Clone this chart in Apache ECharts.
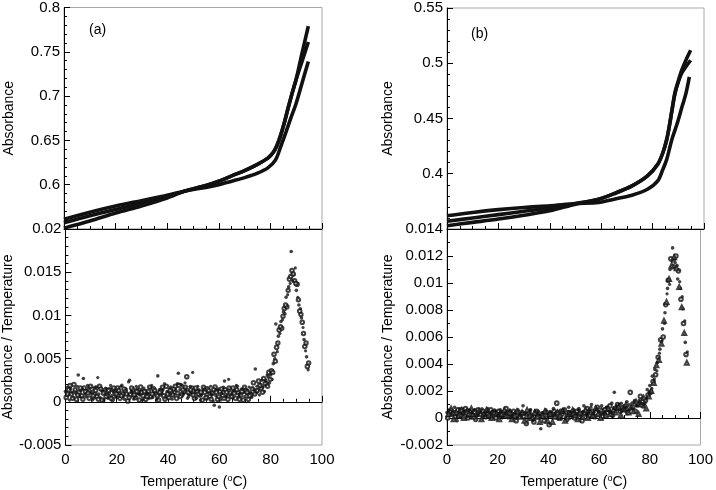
<!DOCTYPE html>
<html><head><meta charset="utf-8">
<script src="https://cdn.jsdelivr.net/npm/echarts@6/dist/echarts.min.js"></script>
<style>html,body{margin:0;padding:0;background:#fff}#c{width:716px;height:490px}</style>
</head><body><div id="c"></div>
<script>
// ---------- Panel (a) top: absorbance curves ----------
const aCurveOpenT = [0,10,20,30,40,47,55,60,65,70,75,79,81,82.5,84,85.5,87,88.5,90,92,94.7];
const aCurveOpenV = [0.551,0.559,0.568,0.576,0.585,0.593,0.599,0.604,0.610,0.616,0.623,0.630,0.636,0.644,0.656,0.671,0.688,0.704,0.719,0.745,0.779];
const aCurveFillT = [0,10,20,30,40,47,55,60,65,70,75,79,81,82.5,84,85.5,87,88.5,90,92,94.7];
const aCurveFillV = [0.557,0.565,0.572,0.579,0.587,0.593,0.599,0.604,0.610,0.616,0.623,0.630,0.636,0.644,0.656,0.671,0.688,0.704,0.719,0.737,0.761];
const aCurveLowT = [0,10,20,30,40,47,55,60,65,70,75,79,82,84,86,88,90,92,94.7];
const aCurveLowV = [0.561,0.569,0.576,0.582,0.588,0.593,0.597,0.600,0.604,0.608,0.613,0.619,0.628,0.643,0.659,0.676,0.692,0.712,0.739];

// ---------- Panel (b) top: absorbance curves ----------
const bCurveOpenT = [0,10,20,30,40,50,59,65,72,78,82,84,85.5,86.5,87.5,88.7,90,91.3,93,94.8];
const bCurveOpenV = [0.353,0.356,0.359,0.3625,0.3665,0.3725,0.377,0.382,0.389,0.398,0.4086,0.419,0.431,0.443,0.457,0.4733,0.484,0.4935,0.503,0.5117];
const bCurveFillT = [0,10,20,30,40,50,59,65,72,78,82,84,85.5,86.5,87.5,88.7,90,91.3,93,94.8];
const bCurveFillV = [0.357,0.360,0.363,0.366,0.369,0.373,0.377,0.382,0.389,0.398,0.4086,0.419,0.431,0.443,0.457,0.4725,0.483,0.491,0.497,0.5027];
const bCurveTriT = [0,10,20,30,40,50,59,65,72,78,82,84,85.5,87.5,89.5,91.5,93,94.3];
const bCurveTriV = [0.362,0.365,0.3675,0.3695,0.371,0.373,0.374,0.377,0.3806,0.386,0.3935,0.404,0.413,0.431,0.445,0.461,0.473,0.4877];

// ---------- derivative sweeps: temperatures ----------
const temps1 = [0,1,2,3,4,5,6,7,8,9,10,11,12,13,14,15,16,17,18,19,20,21,22,23,24,25,26,27,28,29,30,31,32,33,34,35,36,37,38,39,40,41,42,43,44,45,46,47,48,49,50,51,52,53,54,55,56,57,58,59,60,61,62,63,64,65,66,67,68,69,70,71,72,73,74,75,76,77,78,79,80,81,82,83,84,85,86,87,88,89,90,91,92,93,94];
const temps2 = [0.3,1.3,2.3,3.3,4.3,5.3,6.3,7.3,8.3,9.3,10.3,11.3,12.3,13.3,14.3,15.3,16.3,17.3,18.3,19.3,20.3,21.3,22.3,23.3,24.3,25.3,26.3,27.3,28.3,29.3,30.3,31.3,32.3,33.3,34.3,35.3,36.3,37.3,38.3,39.3,40.3,41.3,42.3,43.3,44.3,45.3,46.3,47.3,48.3,49.3,50.3,51.3,52.3,53.3,54.3,55.3,56.3,57.3,58.3,59.3,60.3,61.3,62.3,63.3,64.3,65.3,66.3,67.3,68.3,69.3,70.3,71.3,72.3,73.3,74.3,75.3,76.3,77.3,78.3,79.3,80.3,81.3,82.3,83.3,84.3,85.3,86.3,87.3,88.3,89.3,90.3,91.3,92.3,93.3,94.3];
const temps3 = [0.6,1.6,2.6,3.6,4.6,5.6,6.6,7.6,8.6,9.6,10.6,11.6,12.6,13.6,14.6,15.6,16.6,17.6,18.6,19.6,20.6,21.6,22.6,23.6,24.6,25.6,26.6,27.6,28.6,29.6,30.6,31.6,32.6,33.6,34.6,35.6,36.6,37.6,38.6,39.6,40.6,41.6,42.6,43.6,44.6,45.6,46.6,47.6,48.6,49.6,50.6,51.6,52.6,53.6,54.6,55.6,56.6,57.6,58.6,59.6,60.6,61.6,62.6,63.6,64.6,65.6,66.6,67.6,68.6,69.6,70.6,71.6,72.6,73.6,74.6,75.6,76.6,77.6,78.6,79.6,80.6,81.6,82.6,83.6,84.6,85.6,86.6,87.6,88.6,89.6,90.6,91.6,92.6,93.6,94.6];
const temps4 = [0.8,1.8,2.8,3.8,4.8,5.8,6.8,7.8,8.8,9.8,10.8,11.8,12.8,13.8,14.8,15.8,16.8,17.8,18.8,19.8,20.8,21.8,22.8,23.8,24.8,25.8,26.8,27.8,28.8,29.8,30.8,31.8,32.8,33.8,34.8,35.8,36.8,37.8,38.8,39.8,40.8,41.8,42.8,43.8,44.8,45.8,46.8,47.8,48.8,49.8,50.8,51.8,52.8,53.8,54.8,55.8,56.8,57.8,58.8,59.8,60.8,61.8,62.8,63.8,64.8,65.8,66.8,67.8,68.8,69.8,70.8,71.8,72.8,73.8,74.8,75.8,76.8,77.8,78.8,79.8,80.8,81.8,82.8,83.8,84.8,85.8,86.8,87.8,88.8,89.8,90.8,91.8,92.8,93.8,94.8];

// ---------- Panel (a) bottom: dA/dT ----------
const aDeriv1 = [0.0012,0.0008,0.0015,0.0005,0.0010,0.0031,0.0013,0.0027,0.0006,0.0016,
0.0011,0.0004,0.0017,0.0009,0.0013,0.0002,0.0015,0.0010,0.0007,0.0014,
0.0005,0.0012,0.0019,0.0003,0.0009,0.0025,0.0011,0.0006,0.0015,0.0008,
0.0002,0.0013,0.0010,0.0016,0.0005,0.0012,0.0030,0.0008,0.0014,0.0004,
0.0011,0.0017,0.0007,0.0013,0.0033,0.0020,0.0009,0.0015,0.0006,0.0012,
0.0010,0.0004,0.0014,0.0008,0.0016,0.0003,0.0012,0.0009,-0.0004,0.0013,
-0.0006,0.0010,0.0024,0.0007,0.0015,0.0005,0.0012,0.0018,0.0009,0.0014,
0.0006,0.0013,0.0011,0.0016,0.0038,0.0014,0.0020,0.0017,0.0025,0.0029,
0.0031,0.0044,0.0090,0.0076,0.0093,0.0104,0.0121,0.0133,0.0174,0.0147,
0.0129,0.0112,0.0097,0.0072,0.0052];
const aDeriv2 = [0.0005,0.0014,0.0009,0.0020,0.0003,0.0011,0.0007,0.0016,0.0012,0.0004,
0.0015,0.0009,0.0006,0.0018,0.0002,0.0011,0.0007,0.0014,0.0003,0.0010,
0.0016,0.0004,0.0009,0.0013,0.0001,0.0008,0.0014,0.0005,0.0011,0.0017,
0.0007,0.0003,0.0012,0.0006,0.0015,0.0009,0.0002,0.0013,0.0007,0.0018,
0.0005,0.0011,0.0015,0.0004,0.0019,0.0008,0.0012,0.0029,0.0010,0.0016,
0.0004,0.0012,0.0008,0.0002,0.0011,0.0015,0.0006,0.0010,0.0017,0.0003,
0.0012,0.0007,0.0014,0.0003,0.0010,0.0016,0.0004,0.0011,0.0008,0.0002,
0.0013,0.0003,0.0008,0.0022,0.0012,0.0024,0.0016,0.0027,0.0021,0.0034,
0.0036,0.0055,0.0063,0.0083,0.0085,0.0108,0.0110,0.0142,0.0152,0.0140,
0.0136,0.0105,0.0092,0.0064,0.0041];
const aDeriv3 = [0.0017,0.0002,0.0011,0.0013,0.0018,0.0006,0.0015,0.0009,0.0019,0.0010,
0.0002,0.0017,0.0028,0.0005,0.0014,0.0016,0.0004,0.0019,0.0012,0.0006,
0.0009,0.0018,0.0006,0.0015,0.0023,0.0012,0.0003,0.0018,0.0009,0.0013,
0.0016,0.0009,0.0004,0.0019,0.0011,0.0003,0.0014,0.0010,0.0021,0.0012,
0.0015,0.0003,0.0009,0.0021,0.0014,0.0019,0.0022,0.0004,0.0018,0.0034,
0.0013,0.0018,0.0002,0.0014,0.0006,0.0010,0.0018,0.0001,0.0007,0.0015,
0.0002,0.0017,0.0006,0.0026,0.0009,0.0013,0.0019,0.0006,0.0015,0.0011,
0.0009,0.0017,0.0005,0.0014,0.0018,0.0008,0.0025,0.0012,0.0031,0.0022,
0.0026,0.0050,0.0058,0.0079,0.0095,0.0102,0.0124,0.0137,0.0140,0.0155,
0.0121,0.0108,0.0086,0.0059,0.0037];
const aDeriv4 = [0.0009,0.0019,0.0004,0.0014,0.0008,0.0016,0.0003,0.0012,0.0010,0.0018,
0.0007,0.0013,0.0003,0.0015,0.0010,0.0006,0.0013,0.0004,0.0016,0.0009,
0.0013,0.0007,0.0015,0.0009,0.0005,0.0016,0.0008,0.0012,0.0002,0.0011,
0.0012,0.0006,0.0017,0.0009,0.0013,0.0007,0.0011,0.0017,0.0003,0.0009,
0.0013,0.0008,0.0018,0.0010,0.0006,0.0014,0.0017,0.0011,0.0014,0.0008,
0.0016,0.0009,0.0011,0.0017,0.0005,0.0013,0.0003,0.0014,0.0011,0.0006,
0.0015,0.0004,0.0011,0.0016,0.0006,0.0010,0.0014,0.0003,0.0012,0.0017,
0.0011,0.0007,0.0015,0.0009,0.0013,0.0019,0.0011,0.0021,0.0018,0.0026,
0.0034,0.0047,0.0068,0.0087,0.0099,0.0112,0.0129,0.0145,0.0148,0.0137,
0.0118,0.0101,0.0079,0.0068,0.0045];

// ---------- Panel (b) bottom: dA/dT ----------
const bDeriv1 = [0.0004,0.0002,0.0006,0.0008,-0.0002,0.0005,0.0007,0.0003,0.0006,0.0001,
0.0004,0.0006,0.0002,0.0005,0.0000,0.0004,0.0007,0.0003,0.0001,0.0005,
0.0003,0.0006,0.0001,0.0004,0.0002,0.0005,0.0000,0.0003,0.0006,0.0002,
0.0009,0.0004,-0.0001,0.0006,0.0002,0.0000,0.0005,-0.0008,0.0003,0.0006,
0.0001,0.0004,0.0007,0.0002,0.0005,-0.0001,0.0006,0.0003,0.0008,0.0004,
0.0006,0.0002,0.0007,0.0004,0.0009,0.0003,0.0006,0.0010,0.0004,0.0007,
0.0005,0.0009,0.0003,0.0008,0.0006,0.0011,0.0019,0.0007,0.0010,0.0005,
0.0009,0.0012,0.0006,0.0011,0.0013,0.0009,0.0012,0.0014,0.0011,0.0021,
0.0024,0.0031,0.0036,0.0041,0.0051,0.0066,0.0078,0.0096,0.0110,0.0126,
0.0115,0.0103,0.0096,0.0081,0.0056];
const bDeriv2 = [0.0000,0.0005,0.0003,0.0001,0.0006,0.0002,0.0004,0.0007,0.0000,0.0005,
0.0002,-0.0001,0.0006,0.0003,0.0005,0.0001,0.0003,0.0006,0.0004,0.0000,
0.0005,0.0002,0.0004,0.0007,0.0001,0.0003,0.0005,-0.0002,0.0004,0.0002,
0.0001,-0.0004,0.0004,0.0002,-0.0003,0.0005,0.0001,0.0003,-0.0002,0.0004,
-0.0005,0.0002,0.0005,0.0011,0.0000,0.0003,0.0006,-0.0001,0.0004,0.0002,
0.0000,0.0005,0.0003,-0.0002,0.0004,0.0007,0.0002,0.0005,0.0001,0.0008,
0.0003,0.0001,0.0006,0.0004,0.0009,0.0002,0.0007,0.0010,0.0005,0.0008,
0.0006,0.0004,0.0019,0.0008,0.0005,0.0010,0.0016,0.0009,0.0013,0.0017,
0.0019,0.0027,0.0032,0.0045,0.0058,0.0060,0.0084,0.0102,0.0118,0.0112,
0.0120,0.0109,0.0088,0.0070,0.0047];
const bDeriv3 = [0.0003,0.0007,-0.0001,0.0004,0.0002,0.0006,0.0000,0.0004,0.0003,0.0007,
0.0001,0.0003,0.0005,-0.0001,0.0003,0.0006,0.0002,0.0000,0.0004,0.0003,
-0.0001,0.0003,0.0006,0.0002,0.0004,-0.0001,0.0002,0.0005,0.0001,0.0004,
-0.0002,0.0006,0.0002,0.0000,0.0004,0.0001,-0.0003,0.0002,0.0005,-0.0002,
0.0003,-0.0003,0.0001,0.0004,0.0002,0.0005,-0.0002,0.0001,0.0003,0.0006,
0.0002,-0.0001,0.0004,0.0001,0.0006,0.0000,0.0004,0.0002,0.0007,0.0003,
0.0000,0.0005,0.0002,0.0007,0.0003,0.0006,0.0004,0.0008,0.0002,0.0007,
0.0010,0.0004,0.0008,0.0005,0.0012,0.0003,0.0010,0.0015,0.0007,0.0016,
0.0020,0.0026,0.0039,0.0043,0.0055,0.0072,0.0086,0.0103,0.0113,0.0119,
0.0111,0.0097,0.0082,0.0063,0.0041];
const bDeriv4 = [0.0006,0.0003,0.0005,0.0002,0.0007,0.0003,0.0005,0.0001,0.0006,0.0004,
0.0006,0.0002,0.0004,0.0007,0.0002,0.0005,0.0000,0.0005,0.0006,0.0002,
0.0004,0.0000,0.0003,0.0005,0.0006,0.0002,0.0004,0.0001,0.0003,0.0005,
0.0003,0.0002,0.0006,-0.0002,0.0005,0.0003,0.0002,0.0004,0.0001,0.0003,
0.0005,0.0002,0.0004,-0.0001,0.0006,0.0004,0.0001,0.0005,0.0002,0.0005,
0.0003,0.0006,0.0001,0.0005,0.0002,0.0004,0.0008,0.0003,0.0006,0.0005,
0.0007,0.0004,0.0008,0.0005,0.0004,0.0007,0.0009,0.0006,0.0011,0.0007,
0.0008,0.0010,0.0007,0.0012,0.0009,0.0013,0.0011,0.0010,0.0015,0.0019,
0.0022,0.0029,0.0035,0.0048,0.0057,0.0070,0.0092,0.0099,0.0116,0.0117,
0.0113,0.0101,0.0090,0.0072,0.0049];

// ---------- axis settings ----------
const xTicks = {min: 0, max: 100, interval: 20};
const yTopA = {min: 0.55, max: 0.8, interval: 0.05, minor: 5};
const yBotA = {min: -0.005, max: 0.02, interval: 0.005, minor: 5};
const yTopB = {min: 0.35, max: 0.55, interval: 0.05, minor: 5};
const yBotB = {min: -0.002, max: 0.014, interval: 0.002, minor: 2};

const FONT = 'Liberation Sans, Arial, Helvetica, sans-serif';
const pairs = (t, v) => t.map((x, i) => [x, v[i]]);

function xAxis(gi, bottom) {
  return {
    type: 'value', gridIndex: gi, min: xTicks.min, max: xTicks.max, interval: xTicks.interval,
    axisLine: {show: true, lineStyle: {color: '#000', width: 1}},
    axisTick: {show: true, inside: true, length: 6, lineStyle: {color: '#000'}},
    minorTick: {show: true, splitNumber: 4, length: 3, lineStyle: {color: '#000'}},
    splitLine: {show: false},
    axisLabel: {show: bottom, color: '#000', fontSize: 15, fontFamily: FONT, margin: 7},
    name: bottom ? 'Temperature ({s|o}C)' : '',
    nameLocation: 'middle', nameGap: 29,
    nameTextStyle: {color: '#000', fontSize: 14, fontFamily: FONT,
      rich: {s: {fontSize: 9, fontFamily: FONT, color: '#000', padding: [0, 0, 7, 0]}}}
  };
}
function yAxis(gi, s, top, name, gap) {
  return {
    type: 'value', gridIndex: gi, min: s.min, max: s.max, interval: s.interval,
    axisLine: {show: true, lineStyle: {color: '#000', width: 1}},
    axisTick: {show: true, inside: true, length: 6, lineStyle: {color: '#000'}},
    minorTick: {show: true, splitNumber: s.minor, length: 3, lineStyle: {color: '#000'}},
    splitLine: {show: false},
    axisLabel: {color: '#000', fontSize: 15, fontFamily: FONT, margin: 4,
      showMinLabel: !top, showMaxLabel: true},
    name: name, nameLocation: 'middle', nameGap: gap,
    nameTextStyle: {color: '#000', fontSize: 14, fontFamily: FONT}
  };
}
function curve(gi, t, v) {
  return {type: 'line', xAxisIndex: gi, yAxisIndex: gi, data: pairs(t, v), smooth: 0.3,
    showSymbol: false, lineStyle: {color: '#111', width: 3.6}, silent: true};
}
function dots(gi, t, v, sym, size) {
  const empty = sym.indexOf('empty') === 0;
  return {type: 'scatter', xAxisIndex: gi, yAxisIndex: gi, data: pairs(t, v),
    symbol: sym, symbolSize: size, silent: true,
    itemStyle: empty ? {color: '#111', borderColor: '#111', borderWidth: 0.8}
                     : {color: '#111'}};
}

const gridBase = {show: true, borderColor: '#a8a8a8', borderWidth: 1, backgroundColor: 'transparent'};
const option = {
  animation: false,
  backgroundColor: '#fff',
  grid: [
    Object.assign({left: 64, top: 6, width: 258, height: 223}, gridBase),
    Object.assign({left: 64, top: 229, width: 258, height: 217}, gridBase),
    Object.assign({left: 447, top: 8, width: 257, height: 221}, gridBase),
    Object.assign({left: 447, top: 229, width: 257, height: 217}, gridBase)
  ],
  xAxis: [xAxis(0, false), xAxis(1, true), xAxis(2, false), xAxis(3, true)],
  yAxis: [
    yAxis(0, yTopA, true, 'Absorbance', 48),
    yAxis(1, yBotA, false, 'Absorbance / Temperature', 48),
    yAxis(2, yTopB, true, 'Absorbance', 52),
    yAxis(3, yBotB, false, 'Absorbance / Temperature', 52)
  ],
  graphic: [
    {type: 'text', left: 89, top: 23, style: {text: '(a)', fontSize: 14, fontFamily: FONT, fill: '#000'}},
    {type: 'text', left: 471, top: 27, style: {text: '(b)', fontSize: 14, fontFamily: FONT, fill: '#000'}}
  ],
  series: [
    curve(0, aCurveLowT, aCurveLowV),
    curve(0, aCurveFillT, aCurveFillV),
    curve(0, aCurveOpenT, aCurveOpenV),
    dots(1, temps2, aDeriv2, 'emptyCircle', 3.6),
    dots(1, temps1, aDeriv1, 'circle', 3.6),
    dots(1, temps3, aDeriv3, 'circle', 3.2),
    dots(1, temps4, aDeriv4, 'emptyCircle', 3.4),
    curve(2, bCurveTriT, bCurveTriV),
    curve(2, bCurveFillT, bCurveFillV),
    curve(2, bCurveOpenT, bCurveOpenV),
    dots(3, temps2, bDeriv2, 'emptyCircle', 3.6),
    dots(3, temps1, bDeriv1, 'circle', 3.6),
    dots(3, temps3, bDeriv3, 'emptyTriangle', 4),
    dots(3, temps4, bDeriv4, 'circle', 3.2)
  ]
};
const chart = echarts.init(document.getElementById('c'));
chart.setOption(option);
</script>
</body></html>
